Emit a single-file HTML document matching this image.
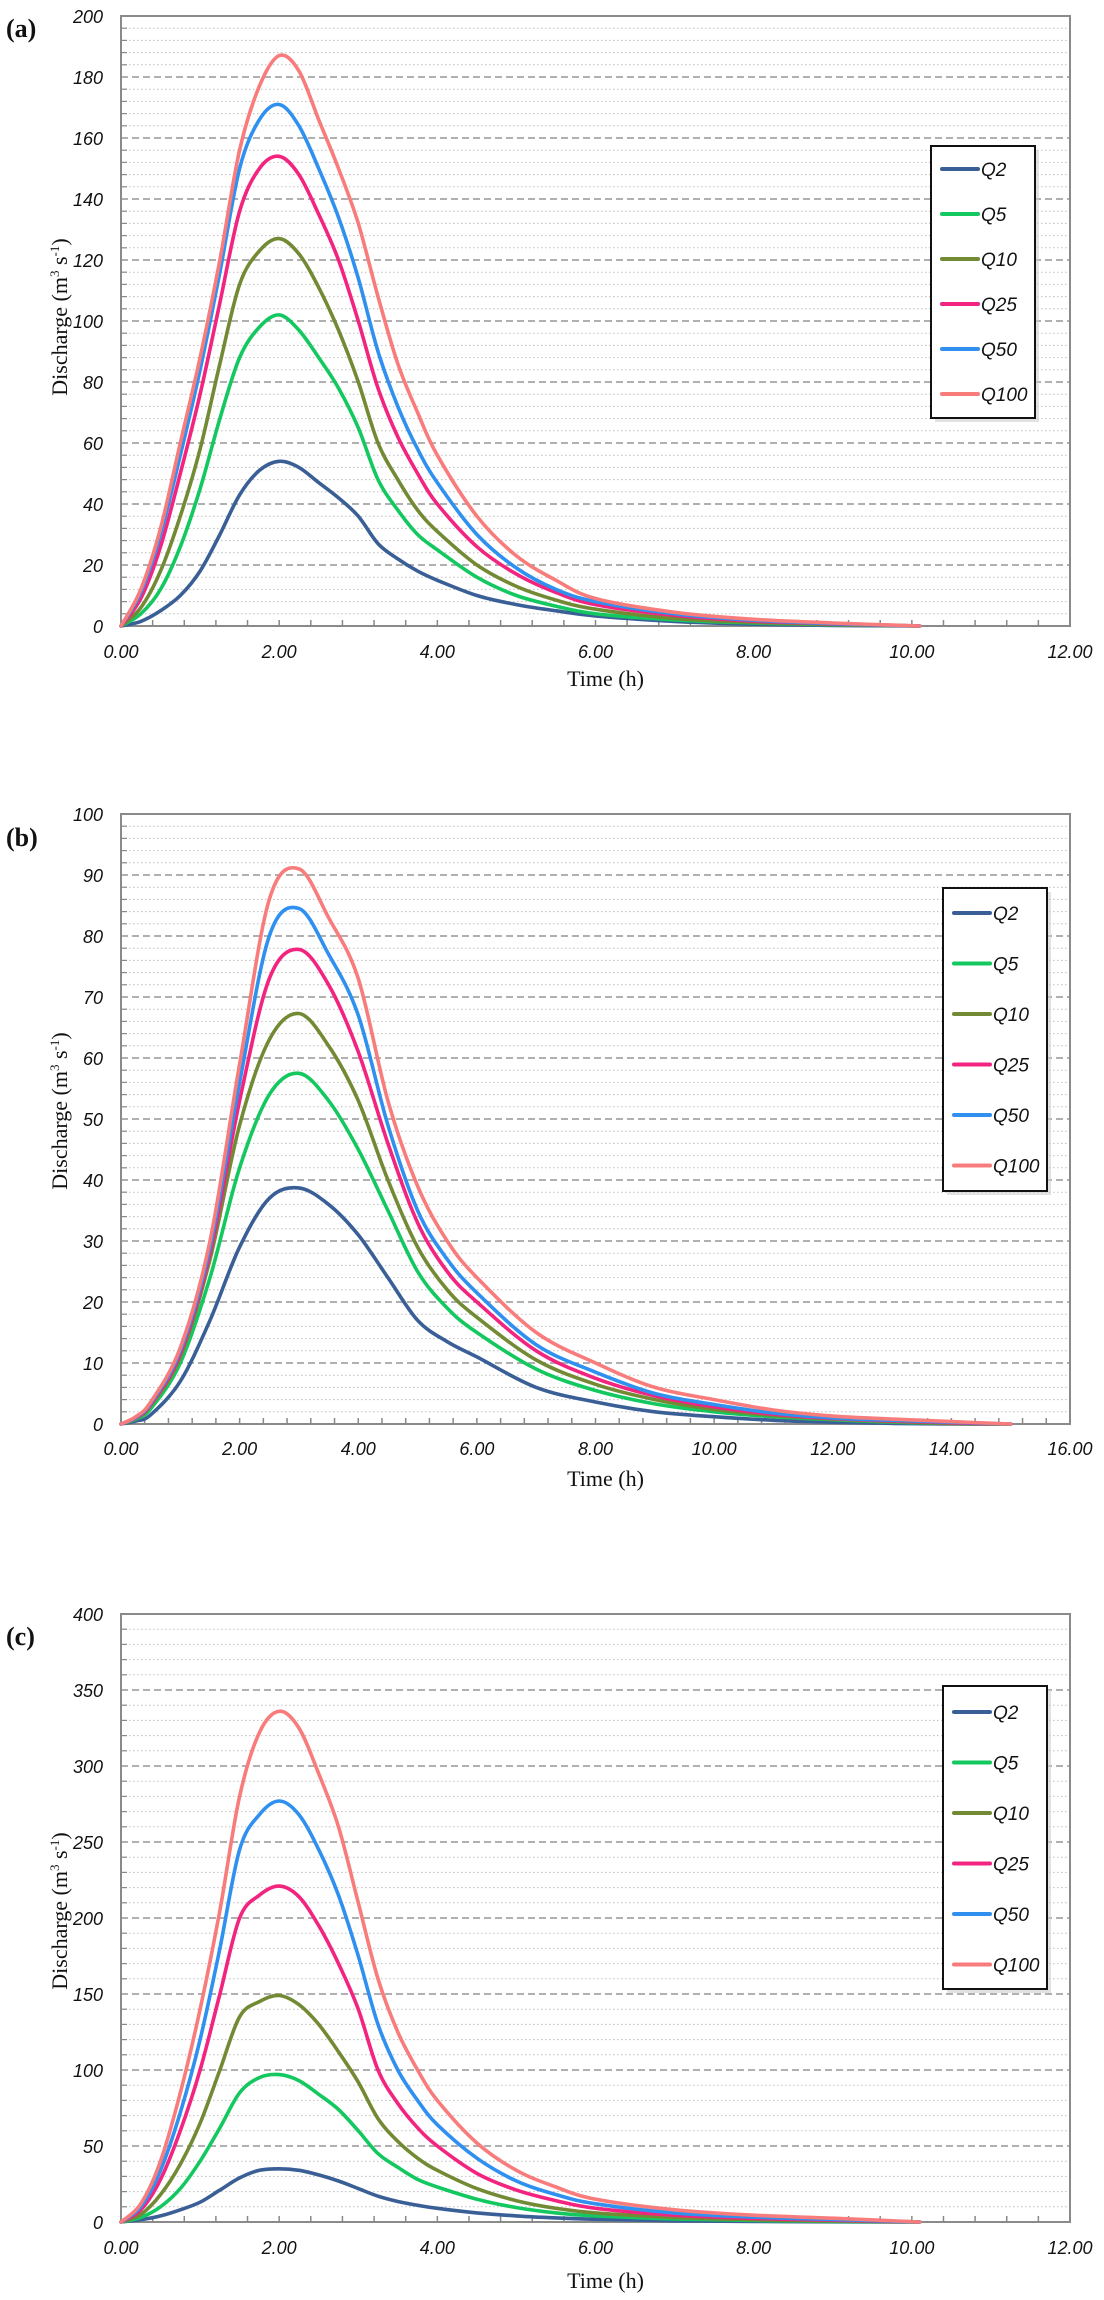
<!DOCTYPE html>
<html><head><meta charset="utf-8"><style>
html,body{margin:0;padding:0;background:#fff}
svg{display:block}
.tick{font-family:"Liberation Sans",sans-serif;font-style:italic;font-size:18px;fill:#111}
.ttl{font-family:"Liberation Serif",serif;font-size:22px;fill:#111}
.pl{font-family:"Liberation Serif",serif;font-weight:bold;font-size:26px;fill:#111}
.lg{font-family:"Liberation Sans",sans-serif;font-style:italic;font-size:19px;fill:#111}
</style></head><body>
<svg id="root" width="1104" height="2300" viewBox="0 0 1104 2300" xmlns="http://www.w3.org/2000/svg"></svg>
<script>
const seriesNames=["Q2","Q5","Q10","Q25","Q50","Q100"];
const seriesColors=["#3a5f96","#14c860","#738a35","#f2247f","#2f90f0","#f87c7c"];
// Panel (a)
const timeA=[0,0.25,0.5,0.75,1.0,1.25,1.5,1.75,2.0,2.25,2.5,2.75,3.0,3.25,3.5,3.75,4.0,4.5,5.0,5.5,6.0,7.0,8.0,9.0,10.1];
const a_Q2=[0,1.5,5,10,18,30,43,51,54,52,47,42,36,27,22,18,15,10,7,5,3.3,1.5,0.6,0.2,0];
const a_Q5=[0,4,12,26,45,68,88,98,102,97,88,78,65,48,38,30,25,16,10,6.5,4,2,1,0.4,0];
const a_Q10=[0,6,18,36,58,86,112,123,127,122,111,97,80,60,48,38,31,20,13,8.5,5.5,2.5,1.2,0.5,0];
const a_Q25=[0,9,26,50,76,106,136,150,154,148,135,120,100,78,62,50,40,26,17,11,7,3.5,1.6,0.7,0];
const a_Q50=[0,11,30,56,84,116,150,166,171,164,150,134,114,90,72,58,47,30,19,12,8,4,1.9,0.8,0];
const a_Q100=[0,12,32,60,88,120,156,177,187,182,166,150,132,108,86,70,56,36,23,15,9,4.5,2.2,1,0];
const yTicksA=[0,20,40,60,80,100,120,140,160,180,200];
const xTicksA=["0.00","2.00","4.00","6.00","8.00","10.00","12.00"];
// Panel (b)
const timeB=[0,0.25,0.5,1,1.5,2,2.5,3,3.5,4,4.5,5,5.5,6,7,8,9,10,11,12,13,14,15];
const b_Q2=[0,0.5,1.5,7,17,29,37,38.7,36,31,24,17,13.5,11,6,3.6,2,1.2,0.6,0.3,0.1,0,0];
const b_Q5=[0,0.8,2.5,10,24,42,54,57.5,53,45,35,25,19,15,9,5.5,3.3,2,1.2,0.7,0.3,0.1,0];
const b_Q10=[0,1,3,11,27,49,63,67.3,62,53,40,29,22,17.5,10.5,6.5,4,2.4,1.4,0.8,0.4,0.1,0];
const b_Q25=[0,1,3.2,11.5,28,53,73,77.8,72,61,46,33,25,20,12,7.5,4.6,2.8,1.6,0.9,0.5,0.2,0];
const b_Q50=[0,1.1,3.4,12,29,56,80,84.5,77,67,49,35,27,21.5,13,8.5,5,3.2,1.8,1,0.6,0.3,0];
const b_Q100=[0,1.2,3.6,12.5,30,59,86,91,83,73,53,39,30,24,15,10,6,4,2.3,1.3,0.8,0.4,0];
const yTicksB=[0,10,20,30,40,50,60,70,80,90,100];
const xTicksB=["0.00","2.00","4.00","6.00","8.00","10.00","12.00","14.00","16.00"];
// Panel (c)
const timeC=[0,0.25,0.5,0.75,1.0,1.25,1.5,1.75,2.0,2.25,2.5,2.75,3.0,3.25,3.5,3.75,4.0,4.5,5.0,5.5,6.0,7.0,8.0,9.0,10.1];
const c_Q2=[0,1.5,4,8,13,21,29,34,35,34,31,27,22,17,13.5,11,9,6,4,2.7,1.8,0.8,0.4,0.1,0];
const c_Q5=[0,3,10,22,40,62,85,95,97,93,84,74,60,45,36,28,23,15,9.5,6,4,2,1,0.4,0];
const c_Q10=[0,5,18,38,65,100,135,145,149,143,130,112,92,68,53,42,34,22,14,9,6,3,1.5,0.7,0];
const c_Q25=[0,8,28,60,100,150,200,215,221,214,195,170,140,100,78,62,50,32,21,14,9,4.5,2.4,1.2,0];
const c_Q50=[0,10,34,72,120,180,245,268,277,268,245,215,175,130,100,80,64,42,27,18,12,6,3.2,1.7,0];
const c_Q100=[0,12,40,85,140,205,280,322,336,325,295,260,210,160,125,100,80,52,34,23,15,8,4.5,2.5,0];
const yTicksC=[0,50,100,150,200,250,300,350,400];
const xTicksC=["0.00","2.00","4.00","6.00","8.00","10.00","12.00"];

const NS="http://www.w3.org/2000/svg";
const root=document.getElementById('root');
function mk(tag,attrs,parent){const e=document.createElementNS(NS,tag);for(const k in attrs)e.setAttribute(k,attrs[k]);(parent||root).appendChild(e);return e;}

function smoothPath(pts){
  let d="M"+pts[0][0].toFixed(1)+","+pts[0][1].toFixed(1);
  for(let i=0;i<pts.length-1;i++){
    const p0=pts[Math.max(0,i-1)],p1=pts[i],p2=pts[i+1],p3=pts[Math.min(pts.length-1,i+2)];
    const c1x=p1[0]+(p2[0]-p0[0])/6,c1y=p1[1]+(p2[1]-p0[1])/6;
    const c2x=p2[0]-(p3[0]-p1[0])/6,c2y=p2[1]-(p3[1]-p1[1])/6;
    d+=" C"+c1x.toFixed(1)+","+c1y.toFixed(1)+" "+c2x.toFixed(1)+","+c2y.toFixed(1)+" "+p2[0].toFixed(1)+","+p2[1].toFixed(1);
  }
  return d;
}

function panel(cfg){
  const g=mk('g',{});
  
  
  const L=121,R=1070,T=cfg.top,B=cfg.bottom;
  const xmax=cfg.xmax,ymax=cfg.yTicks[cfg.yTicks.length-1];
  const xs=t=>L+(R-L)*t/xmax, ys=v=>B-(B-T)*v/ymax;
  // minor grid
  const minorN=cfg.minor;
  for(let i=1;i<cfg.yTicks.length;i++){
    const v0=cfg.yTicks[i-1],v1=cfg.yTicks[i];
    for(let k=1;k<minorN;k++){
      const y=ys(v0+(v1-v0)*k/minorN);
      const ml=mk('line',{x1:L,x2:R,y1:y,y2:y,stroke:'#bdbdbd','stroke-width':1,'stroke-dasharray':'1.5,2.5'},g);
      
      
      mk('line',{x1:L,x2:L+6,y1:y,y2:y,stroke:'#888','stroke-width':1.2},g);
    }
  }
  // major grid + y labels
  cfg.yTicks.forEach(v=>{
    const y=ys(v);
    if(v>0){const gl=mk('line',{x1:L,x2:R,y1:y,y2:y,stroke:'#b0b0b0','stroke-width':2,'stroke-dasharray':'7,4'},g);
    
    }
    const t=mk('text',{x:103,y:y+7,'text-anchor':'end',class:'tick'},g);t.textContent=v;
    
    
  });
  // border
  const fr=mk('rect',{x:L,y:T,width:R-L,height:B-T,fill:'none',stroke:'#8a8a8a','stroke-width':2},g);
  
  
  // x ticks
  for(let t=0;t<=xmax+1e-6;t+=0.4){
    const x=xs(t);mk('line',{x1:x,x2:x,y1:B,y2:B-6,stroke:'#888','stroke-width':1.5},g);
  }
  cfg.xTicks.forEach(s=>{
    const x=xs(parseFloat(s));
    const t=mk('text',{x:x,y:cfg.xlabY+7,'text-anchor':'middle',class:'tick'},g);t.textContent=s;
    
    
  });
  // series
  cfg.series.forEach((vals,i)=>{
    const pts=cfg.time.map((t,j)=>[xs(t),ys(vals[j])]);
    const p=mk('path',{d:smoothPath(pts),fill:'none',stroke:seriesColors[i],'stroke-width':3.6,'stroke-linejoin':'round','stroke-linecap':'round'},g);
    
    
  });
  // titles
  const xt=mk('text',{x:(L+R)/2+10,y:cfg.timeY+7,'text-anchor':'middle',class:'ttl'},g);xt.textContent='Time (h)';
  
  
  const cy=cfg.ytY;
  const yt=mk('text',{x:0,y:0,'text-anchor':'middle',class:'ttl',transform:'translate(67,'+cy+') rotate(-90)'},g);
  yt.innerHTML='Discharge (m<tspan font-size="13" dy="-8">3</tspan><tspan dy="8"> s</tspan><tspan font-size="13" dy="-8">-1</tspan><tspan dy="8">)</tspan>';
  
  
  const pl=mk('text',{x:6,y:cfg.plY+9,class:'pl'},g);pl.textContent='('+cfg.id+')';
  
  
  // legend
  const lg=mk('g',{},g);
  
  
  const lw=104,lh=cfg.legH;
  mk('rect',{x:cfg.legX+4,y:cfg.legY+4,width:lw,height:lh,fill:'#cfcfcf',opacity:0.6},lg);
  mk('rect',{x:cfg.legX,y:cfg.legY,width:lw,height:lh,fill:'#fff',stroke:'#111','stroke-width':2},lg);
  seriesNames.forEach((n,i)=>{
    const y=cfg.legFirst+i*cfg.legStep;
    const e=mk('g',{},lg);
    
    
    mk('line',{x1:cfg.legX+11,x2:cfg.legX+47,y1:y,y2:y,stroke:seriesColors[i],'stroke-width':4,'stroke-linecap':'round'},e);
    const t=mk('text',{x:cfg.legX+50,y:y+7,class:'lg'},e);t.textContent=n;
  });
}

panel({id:'a',top:16,bottom:626,xmax:12,yTicks:yTicksA,xTicks:xTicksA,minor:5,time:timeA,
  series:[a_Q2,a_Q5,a_Q10,a_Q25,a_Q50,a_Q100],xlabY:651,timeY:679,ytY:317,plY:28,
  legX:931,legY:146,legH:272,legFirst:169,legStep:45});
panel({id:'b',top:814,bottom:1424,xmax:16,yTicks:yTicksB,xTicks:xTicksB,minor:5,time:timeB,
  series:[b_Q2,b_Q5,b_Q10,b_Q25,b_Q50,b_Q100],xlabY:1448,timeY:1479,ytY:1111,plY:837,
  legX:943,legY:888,legH:303,legFirst:913,legStep:50.5});
panel({id:'c',top:1614,bottom:2222,xmax:12,yTicks:yTicksC,xTicks:xTicksC,minor:5,time:timeC,
  series:[c_Q2,c_Q5,c_Q10,c_Q25,c_Q50,c_Q100],xlabY:2247,timeY:2281,ytY:1911,plY:1636,
  legX:943,legY:1686,legH:303,legFirst:1712,legStep:50.5});
</script>
</body></html>
